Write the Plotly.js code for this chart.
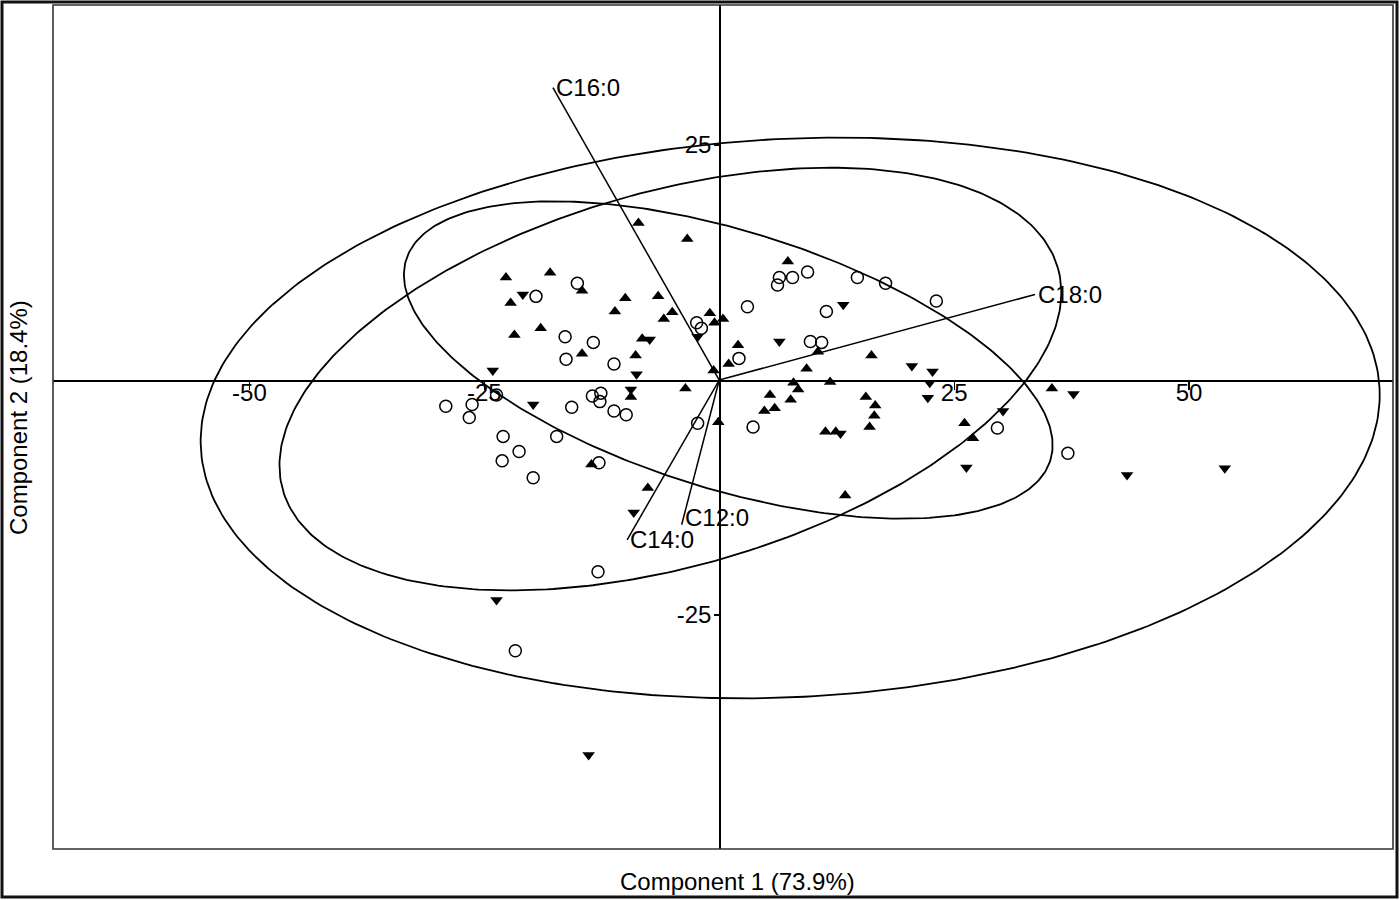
<!DOCTYPE html>
<html>
<head>
<meta charset="utf-8">
<script src="https://cdn.plot.ly/plotly-3.0.1.min.js"></script>
<style>
  html, body { margin: 0; padding: 0; background: #ffffff; }
  #chart { width: 1400px; height: 900px; }
</style>
</head>
<body>
<div id="chart"></div>
<script>
// ---- Scores: open circles ----
const circX = [-15.1,-19.5,3.0,-2.4,-1.9,-16.4,-13.4,-16.3,-11.2,2.1,-23.7,-13.5,-12.6,-12.7,-15.7,-11.2,-9.9,-29.1,-26.3,-26.6,-2.3,-23.0,-17.3,-21.3,-23.1,-19.8,-12.8,-12.9,-21.7,6.4,6.2,7.8,9.4,14.7,17.7,23.1,11.4,9.7,10.9,3.6,29.6,37.1];
const circY = [10.3,8.9,7.8,6.1,5.5,4.6,4.0,2.2,1.7,2.3,-1.6,-1.7,-1.4,-2.3,-2.9,-3.3,-3.7,-2.8,-2.6,-4.0,-4.6,-6.0,-6.0,-7.6,-8.6,-10.4,-8.8,-20.4,-28.8,10.9,10.1,10.9,11.5,10.9,10.3,8.4,7.3,4.1,4.0,-5.0,-5.1,-7.8];

// ---- Scores: filled triangles up ----
const upX = [-8.6,-3.4,-22.7,-18.0,-14.6,-22.2,-10.0,-6.5,-11.1,-5.0,-5.9,-1.0,-0.5,0.4,-21.8,-19.0,-8.2,2.0,-14.6,-8.9,1.0,-0.6,-3.6,-0.1,-9.4,-13.6,-7.6,7.3,10.5,16.2,9.3,11.8,7.9,8.4,5.4,15.6,16.6,7.6,4.8,5.9,16.5,16.0,11.3,12.4,26.1,27.0,35.4,13.4];
const upY = [16.7,15.0,10.9,11.4,9.5,8.2,8.7,8.9,7.3,7.2,6.5,7.1,6.1,6.5,4.8,5.5,4.4,3.7,2.8,2.6,1.7,1.0,-0.9,-4.5,-1.8,-9.0,-11.5,12.6,3.0,2.6,1.2,-0.2,-0.3,-1.0,-1.6,-1.8,-2.7,-2.1,-3.3,-3.0,-3.8,-5.0,-5.5,-5.5,-4.6,-6.2,-0.9,-12.3];

// ---- Scores: filled triangles down ----
const downX = [-20.9,-2.3,-7.4,-24.1,-8.8,-19.8,-9.4,-9.1,-23.7,-13.9,13.2,6.4,20.5,22.7,22.4,22.2,12.9,30.2,37.7,26.3,43.4,53.8];
const downY = [9.1,4.6,4.3,1.0,0.6,-2.6,-1.0,-14.1,-23.4,-39.9,8.0,4.1,1.5,0.9,-0.3,-1.9,-5.7,-3.3,-1.5,-9.3,-10.1,-9.4];

// ---- Loadings (biplot vectors) ----
const loadNames = ['C16:0','C18:0','C14:0','C12:0'];
const loadX = [-17.7, 33.6, -9.8, -4.0];
const loadY = [31.1, 9.1, -17.0, -15.4];
const loadLabelDY = [0, 0, 0, 7];

// ---- Confidence ellipses (centre, semi-axes, rotation in degrees) ----
const ellCX = [7.55, -5.2, 0.96];
const ellCY = [-4.04, 0.1, 2.13];
const ellA = [62.8, 42.9, 35.9];
const ellB = [29.7, 19.9, 13.7];
const ellAngle = [2.9, 16.0, -17.3];

// ---- Axis ticks ----
const xTickVals = [-50, -25, 25, 50];
const xTickText = ['-50', '-25', '25', '50'];
const yTickVals = [-25, 25];
const yTickText = ['-25', '25'];

const xRange = [-70.9, 71.7];
const yRange = [-49.9, 39.9];

const FONT = 'Liberation Sans, Arial, Helvetica, sans-serif';
const FS = 24;
const traces = [];

// ellipses
for (let i = 0; i < ellCX.length; i++) {
  const ex = [], ey = [];
  const th = ellAngle[i] * Math.PI / 180;
  const N = 360;
  for (let k = 0; k <= N; k++) {
    const t = 2 * Math.PI * k / N;
    const u = ellA[i] * Math.cos(t), v = ellB[i] * Math.sin(t);
    ex.push(ellCX[i] + u * Math.cos(th) - v * Math.sin(th));
    ey.push(ellCY[i] + u * Math.sin(th) + v * Math.cos(th));
  }
  traces.push({x: ex, y: ey, type: 'scatter', mode: 'lines',
    line: {color: '#000', width: 1.8}, hoverinfo: 'skip'});
}

// loading vectors
for (let i = 0; i < loadNames.length; i++) {
  traces.push({x: [0, loadX[i]], y: [0, loadY[i]], type: 'scatter', mode: 'lines',
    line: {color: '#000', width: 1.5}, hoverinfo: 'skip'});
}

// points
traces.push({x: circX, y: circY, type: 'scatter', mode: 'markers',
  marker: {symbol: 'circle-open', size: 12, color: '#000', line: {color: '#000', width: 1.5}}});
traces.push({x: upX, y: upY, type: 'scatter', mode: 'markers',
  marker: {symbol: 'triangle-up', size: 11, color: '#000', line: {width: 0}}});
traces.push({x: downX, y: downY, type: 'scatter', mode: 'markers',
  marker: {symbol: 'triangle-down', size: 11, color: '#000', line: {width: 0}}});

const W = 1400, H = 900;
const mL = 53, mR = 7, mT = 5, mB = 51;
const pw = W - mL - mR, ph = H - mT - mB;
const xZeroFrac = (0 - xRange[0]) / (xRange[1] - xRange[0]);
const yZeroFrac = (0 - yRange[0]) / (yRange[1] - yRange[0]);

const annotations = loadNames.map((n, i) => ({
  x: loadX[i], y: loadY[i], xref: 'x', yref: 'y', text: n, showarrow: false,
  xanchor: 'left', yanchor: 'middle', xshift: 1, yshift: loadLabelDY[i],
  font: {family: FONT, size: FS, color: '#000'}
}));
annotations.push({
  x: (737 - mL) / pw, y: (mT + ph - 881) / ph, xref: 'paper', yref: 'paper',
  text: 'Component 1 (73.9%)', showarrow: false, xanchor: 'center', yanchor: 'middle',
  font: {family: FONT, size: FS, color: '#000'}
});
annotations.push({
  x: (18 - mL) / pw, y: (mT + ph - 418) / ph, xref: 'paper', yref: 'paper',
  text: 'Component 2 (18.4%)', showarrow: false, xanchor: 'center', yanchor: 'middle',
  textangle: -90, font: {family: FONT, size: FS, color: '#000'}
});

const shapes = [
  {type: 'rect', xref: 'paper', yref: 'paper', x0: 0, x1: 1, y0: 0, y1: 1,
   line: {color: '#333', width: 1.6}},
  {type: 'rect', xref: 'paper', yref: 'paper',
   x0: (2 - mL) / pw, x1: (1397 - mL) / pw, y0: (mT + ph - 897) / ph, y1: (mT + ph - 2) / ph,
   line: {color: '#111', width: 3}}
];

const layout = {
  width: W, height: H,
  margin: {l: mL, r: mR, t: mT, b: mB, pad: 0},
  paper_bgcolor: '#fff', plot_bgcolor: '#fff',
  showlegend: false, hovermode: false,
  xaxis: {
    range: xRange, anchor: 'free', position: yZeroFrac,
    showgrid: false, zeroline: false, showline: true, linecolor: '#000', linewidth: 1.5,
    ticks: 'outside', ticklen: 8, tickwidth: 1.2, tickcolor: '#000',
    tickvals: xTickVals, ticktext: xTickText, ticklabelstandoff: -17,
    tickfont: {family: FONT, size: FS, color: '#000'}, fixedrange: true
  },
  yaxis: {
    range: yRange, anchor: 'free', position: xZeroFrac,
    showgrid: false, zeroline: false, showline: true, linecolor: '#000', linewidth: 1.5,
    ticks: 'outside', ticklen: 5, tickwidth: 1.2, tickcolor: '#000',
    tickvals: yTickVals, ticktext: yTickText, ticklabelstandoff: -2,
    tickfont: {family: FONT, size: FS, color: '#000'}, fixedrange: true
  },
  annotations: annotations,
  shapes: shapes
};

Plotly.newPlot('chart', traces, layout, {displayModeBar: false, staticPlot: true});
</script>
</body>
</html>
